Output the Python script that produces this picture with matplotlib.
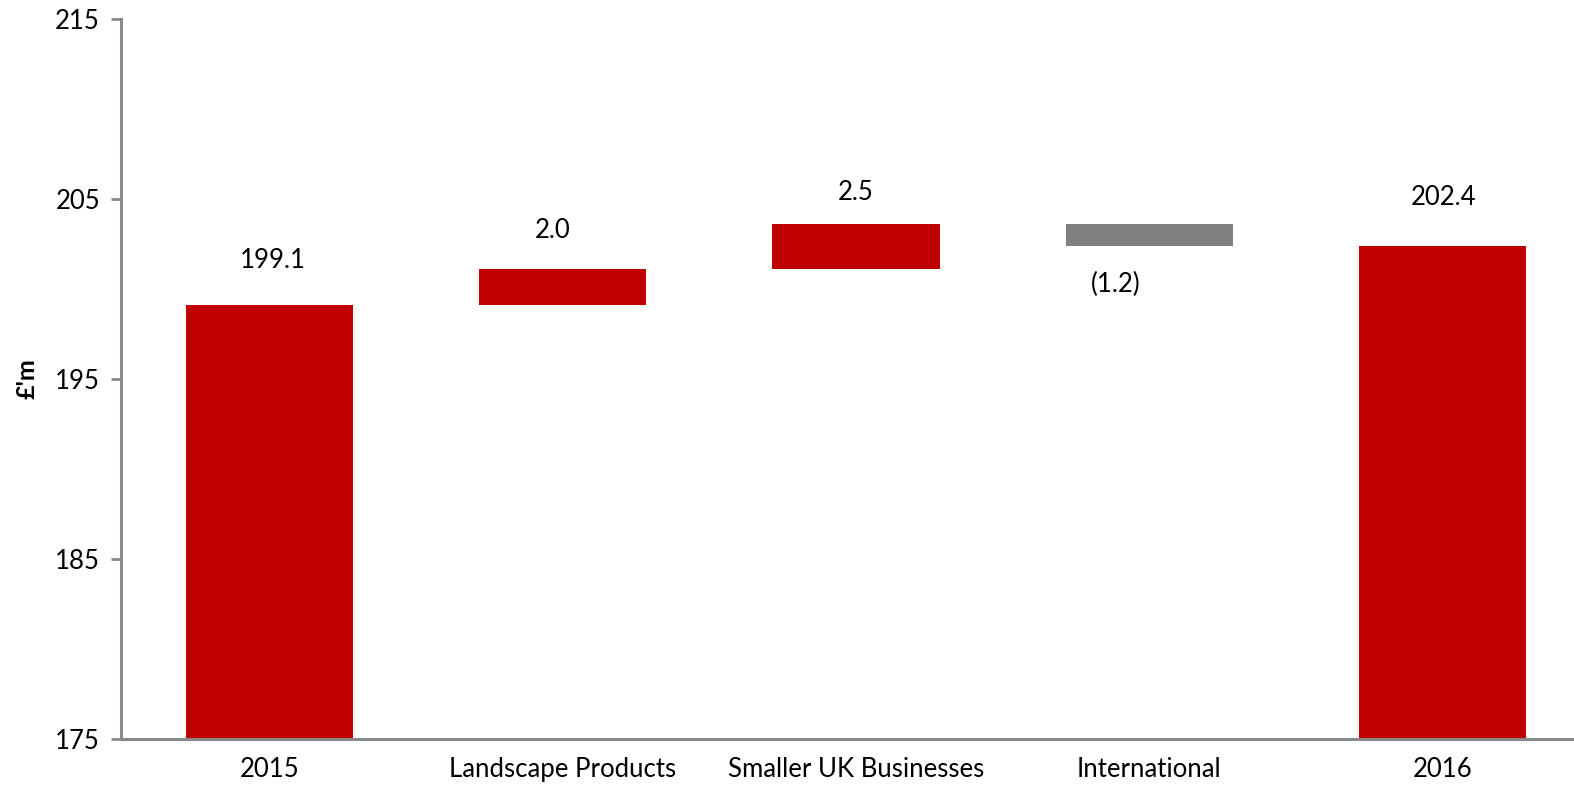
import numpy as np
import matplotlib.pyplot as plt

plt.rcParams['font.family'] = ['Lato', 'DejaVu Sans']

categories = ["2015", "Landscape Products", "Smaller UK Businesses", "International", "2016"]
start_total = 199.1
changes = [2.0, 2.5, -1.2]
end_total = 202.4
labels = ["199.1", "2.0", "2.5", "(1.2)", "202.4"]
# label offsets from the bar edge, in points (dx, dy)
label_shift = [(2, 32), (-7, 28), (0, 23), (-24, -28), (1, 35)]

RED = "#C00000"
GREY = "#808080"
AXIS = "#898989"
BASE = 175


def waterfall_segments(start, deltas, end):
    bottoms = [BASE]
    heights = [start - BASE]
    running = start
    for d in deltas:
        bottoms.append(running if d >= 0 else running + d)
        heights.append(abs(d))
        running += d
    bottoms.append(BASE)
    heights.append(end - BASE)
    colors = [RED] + [RED if d >= 0 else GREY for d in deltas] + [RED]
    return np.array(bottoms), np.array(heights), colors


bottoms, heights, colors = waterfall_segments(start_total, changes, end_total)

fig = plt.figure(figsize=(15.74, 7.92), dpi=100)
ax = fig.add_axes([123 / 1574, 1 - 739 / 792, 1466 / 1574, 720 / 792])

x = np.arange(len(categories))
bars = ax.bar(x, heights, bottom=bottoms, width=0.57, color=colors, zorder=1)

for b, lab, (dx, dy) in zip(bars, labels, label_shift):
    cx = b.get_x() + b.get_width() / 2
    y = b.get_y() + b.get_height() if dy > 0 else b.get_y()
    ax.annotate(lab, (cx, y), xytext=(dx, dy), textcoords="offset points",
                ha="center", va="center", fontsize=18.5)

ax.set_xlim(-0.5, 4.5)
ax.set_ylim(175, 215)
ax.set_yticks([175, 185, 195, 205, 215])
ax.set_xticks(x)
ax.set_xticklabels(categories, fontsize=18.5)
ax.tick_params(axis="y", labelsize=18.5, length=7, width=2, color=AXIS, pad=8)
ax.tick_params(axis="x", length=0, pad=13)

for side in ["top", "right"]:
    ax.spines[side].set_visible(False)
for side in ["left", "bottom"]:
    ax.spines[side].set_color(AXIS)
    ax.spines[side].set_linewidth(2.2)
    ax.spines[side].set_zorder(3)
ax.spines["left"].set_position(("axes", -0.0014))

ax.set_ylabel("£'m", fontsize=18, fontweight="bold", labelpad=12)

fig.savefig("out.png", dpi=100)
